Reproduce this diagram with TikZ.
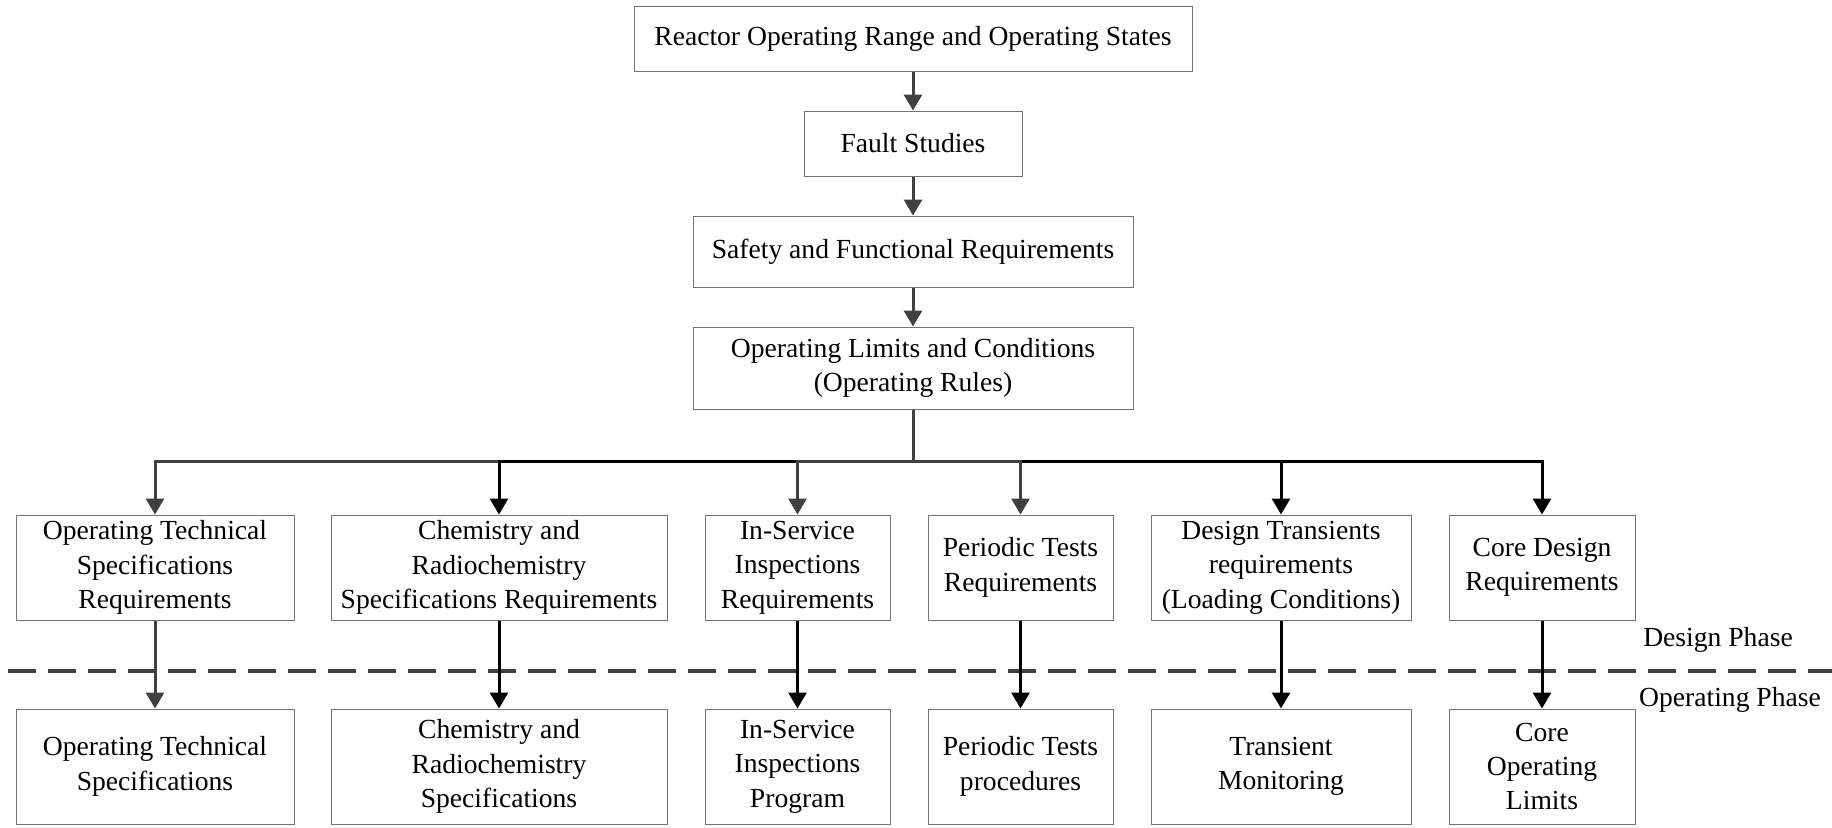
\documentclass[tikz,border=0pt]{standalone}
\usepackage{fontspec}
\setmainfont{Liberation Serif}
\usetikzlibrary{arrows.meta}

\tikzset{
  box/.style={draw=black!55, line width=0.5pt, align=center, inner sep=0pt,
    font=\fontsize{13.8}{17.2}\selectfont},
  phase/.style={font=\fontsize{13.8}{17.2}\selectfont, inner sep=0pt},
  greyarrow/.style={draw=black!75, line width=1.5pt, -{Triangle[length=8pt,width=9pt]}},
  blackarrow/.style={draw=black, line width=1.5pt, -{Triangle[length=8pt,width=9pt]}},
}

\begin{document}
\begin{tikzpicture}[x=0.5pt, y=-0.5pt]

\useasboundingbox (0,0) rectangle (1832,827);

% chain at the top
\node[box, minimum width=279pt, minimum height=32.5pt] (range) at (913,38.5) {Reactor Operating Range and Operating States};
\node[box, minimum width=109pt, minimum height=32.5pt] (fault) at (913,143.5) {Fault Studies};
\node[box, minimum width=220pt, minimum height=35.5pt] (safety) at (913,251.5) {Safety and Functional Requirements};
\node[box, minimum width=220pt, minimum height=41pt] (limits) at (913,368) {Operating Limits and Conditions\\(Operating Rules)};

% design phase
\node[box, minimum width=139pt, minimum height=52.5pt] (otsreq) at (155,567.5) {Operating Technical\\Specifications\\Requirements};
\node[box, minimum width=168pt, minimum height=52.5pt] (chemreq) at (499,567.5) {Chemistry and\\Radiochemistry\\Specifications Requirements};
\node[box, minimum width=92.5pt, minimum height=52.5pt] (isireq) at (797.5,567.5) {In-Service\\Inspections\\Requirements};
\node[box, minimum width=92.5pt, minimum height=52.5pt] (ptreq) at (1020.5,567.5) {Periodic Tests\\Requirements};
\node[box, minimum width=130pt, minimum height=52.5pt] (dtreq) at (1281,567.5) {Design Transients\\requirements\\(Loading Conditions)};
\node[box, minimum width=93pt, minimum height=52.5pt] (corereq) at (1542,567.5) {Core Design\\Requirements};

% operating phase
\node[box, minimum width=139pt, minimum height=57.5pt] (ots) at (155,766.5) {Operating Technical\\Specifications};
\node[box, minimum width=168pt, minimum height=57.5pt] (chem) at (499,766.5) {Chemistry and\\Radiochemistry\\Specifications};
\node[box, minimum width=92.5pt, minimum height=57.5pt] (isi) at (797.5,766.5) {In-Service\\Inspections\\Program};
\node[box, minimum width=92.5pt, minimum height=57.5pt] (pt) at (1020.5,766.5) {Periodic Tests\\procedures};
\node[box, minimum width=130pt, minimum height=57.5pt] (dt) at (1281,766.5) {Transient\\Monitoring};
\node[box, minimum width=93pt, minimum height=57.5pt] (core) at (1542,766.5) {Core\\Operating\\Limits};

\node[phase] (design) at (1718,640) {Design Phase};
\node[phase] (operating) at (1730,700) {Operating Phase};

\draw [black!75, line width=2pt, dash pattern=on 14pt off 6pt] (8,671) -- (1832,671);

\draw [greyarrow] (range) -- (fault);
\draw [greyarrow] (fault) -- (safety);
\draw [greyarrow] (safety) -- (limits);

% branches from the bus
\coordinate (bus) at (913,461);
\draw [greyarrow] (limits.south) -- (bus) -| (otsreq.north);
\draw [blackarrow] (limits.south) -- (bus) -| (chemreq.north);
\draw [greyarrow] (limits.south) -- (bus) -| (isireq.north);
\draw [blackarrow] (limits.south) -- (bus) -| (dtreq.north);
\draw [blackarrow] (limits.south) -- (bus) -| (corereq.north);
\draw [greyarrow] (limits.south) -- (bus) -| (ptreq.north);

\draw [greyarrow] (otsreq) -- (ots);
\draw [blackarrow] (chemreq) -- (chem);
\draw [blackarrow] (isireq) -- (isi);
\draw [blackarrow] (ptreq) -- (pt);
\draw [blackarrow] (dtreq) -- (dt);
\draw [blackarrow] (corereq) -- (core);

\end{tikzpicture}
\end{document}
